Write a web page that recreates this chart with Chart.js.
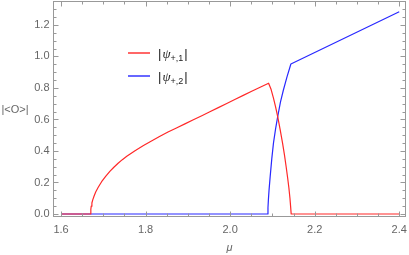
<!DOCTYPE html>
<html>
<head>
<meta charset="utf-8">
<script src="https://cdn.jsdelivr.net/npm/chart.js@4"></script>
<style>
html,body{margin:0;padding:0;background:#fff;}
#c{display:block;}
</style>
</head>
<body>
<canvas id="c" width="409" height="255"></canvas>
<script>
// ---- data ----
const redMu = [1.6, 1.67, 1.6705, 1.6715, 1.673, 1.675, 1.678, 1.682, 1.688, 1.696, 1.706, 1.716, 1.725, 1.735, 1.745, 1.7555, 1.775, 1.795, 1.815, 1.834, 1.853, 1.873, 1.893, 1.913, 1.933, 1.952, 1.972, 1.992, 2.011, 2.031, 2.051, 2.071, 2.091,
               2.097, 2.1025, 2.1075, 2.1125, 2.118, 2.124, 2.1285, 2.1325, 2.136, 2.139, 2.1415, 2.143, 2.1444, 2.4];
const redVal = [0, 0, 0.03, 0.05, 0.07, 0.09, 0.113, 0.14, 0.17, 0.205, 0.24, 0.272, 0.297, 0.322, 0.345, 0.367, 0.402, 0.435, 0.465, 0.493, 0.520, 0.546, 0.572, 0.598, 0.624, 0.649, 0.675, 0.701, 0.727, 0.753, 0.779, 0.805, 0.830,
                0.79, 0.735, 0.68, 0.618, 0.54, 0.45, 0.375, 0.30, 0.23, 0.165, 0.10, 0.05, 0, 0];
const blueMu = [1.6, 2.089, 2.0895, 2.0905, 2.092, 2.0947, 2.0985, 2.1025, 2.1075, 2.1125, 2.119, 2.126, 2.1345, 2.1437, 2.4];
const blueVal = [0, 0, 0.04, 0.09, 0.15, 0.237, 0.35, 0.45, 0.54, 0.618, 0.71, 0.787, 0.87, 0.952, 1.284];
const xTickLabels = ["1.6", "1.8", "2.0", "2.2", "2.4"];
const yTickLabels = ["0.0", "0.2", "0.4", "0.6", "0.8", "1.0", "1.2"];
const seriesNames = [["|", "ψ", "+,1", "|"], ["|", "ψ", "+,2", "|"]];
const xTitle = "μ";
const yTitle = "|<O>|";

const toPts = (xs, ys) => xs.map((x, i) => ({x: x, y: ys[i]}));

const framePlugin = {
  id: 'frame',
  afterDraw(chart) {
    const ctx = chart.ctx;
    const a = chart.chartArea;
    const xs = chart.scales.x, ys = chart.scales.y;
    const L = Math.round(a.left) + 0.5, R = Math.round(a.right) - 0.5;
    const T = Math.round(a.top) + 0.5, B = Math.round(a.bottom) - 0.5;
    ctx.save();
    ctx.strokeStyle = '#999';
    ctx.lineWidth = 1;
    ctx.strokeRect(L, T, R - L, B - T);
    ctx.beginPath();
    for (let k = 0; k <= 16; k++) {
      const v = 1.6 + k * 0.05;
      const px = Math.round(xs.getPixelForValue(v)) + 0.5;
      const len = (k % 4 === 0) ? 5 : 3;
      ctx.moveTo(px, B); ctx.lineTo(px, B - len);
      ctx.moveTo(px, T); ctx.lineTo(px, T + len);
    }
    for (let k = 0; k <= 27; k++) {
      const v = k * 0.05;
      const py = Math.round(ys.getPixelForValue(v)) + 0.5;
      if (py < T) continue;
      const len = (k % 4 === 0) ? 5 : 3;
      ctx.moveTo(L, py); ctx.lineTo(L + len, py);
      ctx.moveTo(R, py); ctx.lineTo(R - len, py);
    }
    ctx.stroke();
    ctx.fillStyle = '#666';
    ctx.font = '11px "Liberation Sans", Arial, sans-serif';
    ctx.textAlign = 'center';
    ctx.textBaseline = 'middle';
    xTickLabels.forEach(t => {
      ctx.fillText(t, xs.getPixelForValue(parseFloat(t)), 230);
    });
    ctx.textAlign = 'right';
    yTickLabels.forEach(t => {
      ctx.fillText(t, 49.5, ys.getPixelForValue(parseFloat(t)));
    });
    ctx.textAlign = 'center';
    ctx.fillText(yTitle, 15, 110);
    ctx.font = 'italic 11px "Liberation Sans", Arial, sans-serif';
    ctx.fillText(xTitle, (a.left + a.right) / 2, 248);
    const cols = ['rgb(255,0,0)', 'rgb(0,0,255)'];
    const ly = [53, 76];
    seriesNames.forEach((parts, i) => {
      ctx.strokeStyle = cols[i];
      ctx.lineWidth = 1.2;
      ctx.beginPath();
      ctx.moveTo(128, ly[i]); ctx.lineTo(150, ly[i]);
      ctx.stroke();
      ctx.fillStyle = '#222';
      ctx.textAlign = 'left';
      ctx.textBaseline = 'alphabetic';
      let x = 158;
      const base = ly[i] + 5;
      ctx.font = '13px "Liberation Sans", Arial, sans-serif';
      ctx.fillText(parts[0], x, base); x += ctx.measureText(parts[0]).width + 1;
      ctx.font = 'italic 13px "Liberation Serif", "Times New Roman", serif';
      ctx.fillText(parts[1], x, base); x += ctx.measureText(parts[1]).width;
      ctx.font = '9px "Liberation Sans", Arial, sans-serif';
      ctx.fillText(parts[2], x, base + 3); x += ctx.measureText(parts[2]).width + 1;
      ctx.font = '13px "Liberation Sans", Arial, sans-serif';
      ctx.fillText(parts[3], x, base);
    });
    ctx.restore();
  }
};

new Chart(document.getElementById('c'), {
  type: 'line',
  data: {
    datasets: [
      {data: toPts(redMu, redVal), borderColor: 'rgb(255,40,40)', borderWidth: 1.2, pointRadius: 0, tension: 0, fill: false, borderJoinStyle: 'round'},
      {data: toPts(blueMu, blueVal), borderColor: 'rgb(40,40,255)', borderWidth: 1.2, pointRadius: 0, tension: 0, fill: false, borderJoinStyle: 'round'}
    ]
  },
  options: {
    responsive: false,
    animation: false,
    events: [],
    layout: {padding: {left: 53, right: 3, top: 1, bottom: 38}},
    plugins: {legend: {display: false}, tooltip: {enabled: false}},
    scales: {
      x: {type: 'linear', min: 1.581, max: 2.416, display: false},
      y: {type: 'linear', min: -0.019, max: 1.352, display: false}
    }
  },
  plugins: [framePlugin]
});
</script>
</body>
</html>
